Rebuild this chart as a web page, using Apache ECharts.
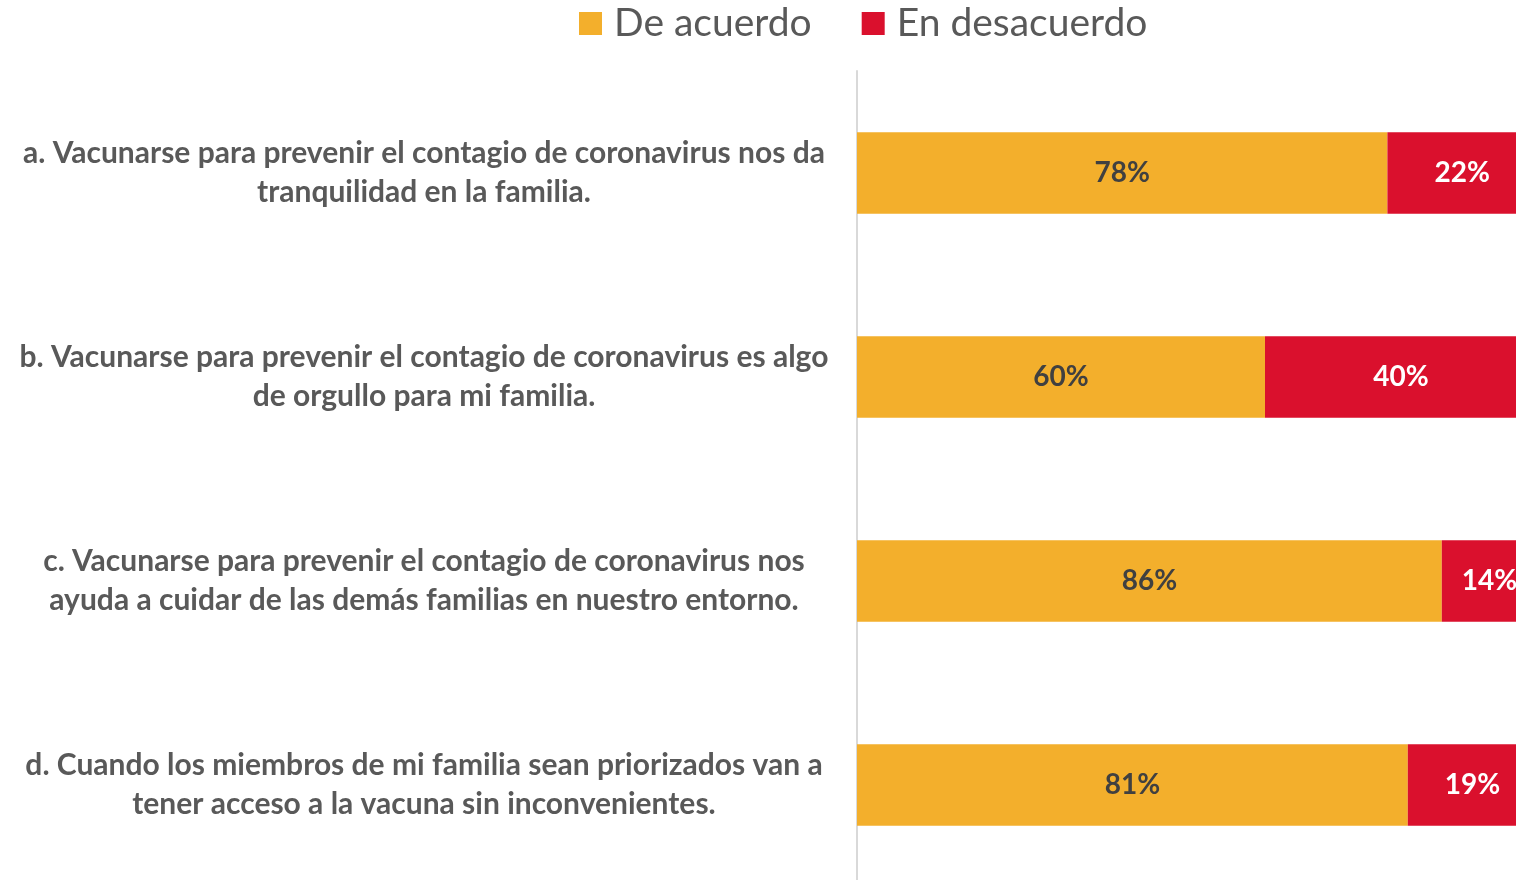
<!DOCTYPE html>
<html>
<head>
<meta charset="utf-8">
<script src="https://cdn.jsdelivr.net/npm/echarts@6/dist/echarts.min.js"></script>
<style>
html,body{margin:0;padding:0;background:#fff;}
#c{width:1516px;height:880px;}
</style>
</head>
<body>
<div id="c"></div>
<script>
const categories = [
  "a. Vacunarse para prevenir el contagio de coronavirus nos da\ntranquilidad en la familia.",
  "b. Vacunarse para prevenir el contagio de coronavirus es algo\nde orgullo para mi familia.",
  "c. Vacunarse para prevenir el contagio de coronavirus nos\nayuda a cuidar de las demás familias en nuestro entorno.",
  "d. Cuando los miembros de mi familia sean priorizados van a\ntener acceso a la vacuna sin inconvenientes."
];
const seriesNames = ["De acuerdo", "En desacuerdo"];
const deAcuerdo = [78, 60, 86, 81];
const enDesacuerdo = [22, 40, 14, 19];

const FONT = "Lato";
const chart = echarts.init(document.getElementById('c'), null, {renderer: 'canvas'});
chart.setOption({
  animation: false,
  textStyle: {fontFamily: FONT},
  legend: {
    data: seriesNames,
    left: 579,
    top: 4,
    padding: 0,
    itemWidth: 23,
    itemHeight: 23,
    itemGap: 50,
    icon: 'rect',
    textStyle: {fontSize: 39, color: '#595959', fontFamily: FONT, padding: [0, 0, 0, 7]}
  },
  grid: {left: 857, width: 680, top: 71, height: 816, containLabel: false, outerBoundsMode: 'none'},
  xAxis: {type: 'value', min: 0, max: 100, show: false},
  yAxis: {
    type: 'category',
    data: categories,
    inverse: true,
    axisLine: {show: true, lineStyle: {color: '#d9d9d9', width: 2}},
    axisTick: {show: false},
    axisLabel: {
      align: 'center',
      margin: 433,
      fontSize: 30,
      fontWeight: 'bold',
      lineHeight: 39,
      color: '#595959',
      fontFamily: FONT,
      padding: [4, 0, 0, 0]
    }
  },
  series: [
    {
      name: seriesNames[0], type: 'bar', stack: 'total', data: deAcuerdo,
      barCategoryGap: '60%',
      clip: false,
      itemStyle: {color: '#F3AF2C'},
      label: {show: true, position: 'inside', formatter: '{c}%', fontSize: 28, fontWeight: 'bold', color: '#404040', fontFamily: FONT, padding: [4, 0, 0, 0]}
    },
    {
      name: seriesNames[1], type: 'bar', stack: 'total', data: enDesacuerdo,
      barCategoryGap: '60%',
      clip: false,
      itemStyle: {color: '#DA102D'},
      label: {show: true, position: 'inside', formatter: '{c}%', fontSize: 28, fontWeight: 'bold', color: '#ffffff', fontFamily: FONT, padding: [4, 0, 0, 0]}
    }
  ]
});
</script>
</body>
</html>
